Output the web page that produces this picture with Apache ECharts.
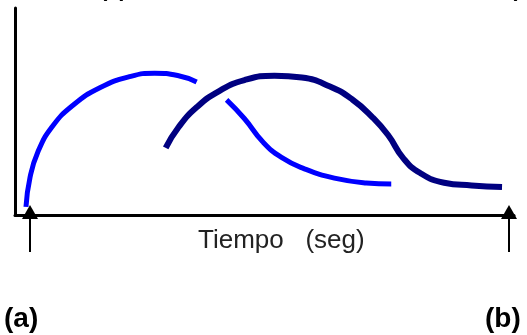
<!DOCTYPE html>
<html>
<head>
<meta charset="utf-8">
<script src="https://cdn.jsdelivr.net/npm/echarts@6/dist/echarts.min.js"></script>
<style>
  html, body { margin: 0; padding: 0; background: #fff; }
  #chart { width: 527px; height: 335px; }
</style>
</head>
<body>
<div id="chart"></div>
<script>
// curva (a): tramo de subida y tramo de bajada (con corte donde cruza la curva b)
const curvaASubida = [
    [2.2, 3.9], [3.0, 18.0], [4.6, 30.5], [7.4, 42.5], [11.6, 53.0],
    [17.0, 61.5], [23.2, 67.0], [28.0, 68.5], [32.6, 67.4], [36.4, 64.3]
];
const curvaABajada = [
    [42.4, 55.6], [46.0, 46.5], [49.6, 35.5], [53.4, 27.8],
    [58.0, 22.3], [64.0, 17.8], [70.4, 15.5], [75.4, 15.0]
];
// curva (b)
const curvaB = [
    [30.2, 32.4], [32.8, 42.5], [36.4, 52.0], [41.0, 60.0], [46.0, 65.2],
    [52.0, 67.3], [57.5, 66.4], [63.0, 62.2], [67.6, 55.8], [71.6, 47.3],
    [74.8, 38.5], [77.8, 27.5], [81.2, 20.3], [86.0, 15.6], [91.5, 14.3], [97.6, 13.5]
];
// instantes marcados con flechas: (a) y (b)
const flechas = [3.0, 99.0];
const etiquetaEje = 'Tiempo   (seg)';

const chart = echarts.init(document.getElementById('chart'));

const lineaAzul = { color: '#0000ff', width: 5 };

const option = {
    backgroundColor: '#fff',
    animation: false,
    grid: { left: 15, right: 13, top: 8, bottom: 120 },
    xAxis: {
        type: 'value',
        min: 0,
        max: 100,
        axisLine: { show: true, lineStyle: { color: '#000', width: 3 } },
        axisTick: { show: false },
        axisLabel: { show: false },
        splitLine: { show: false }
    },
    yAxis: {
        type: 'value',
        min: 0,
        max: 100,
        axisLine: { show: true, lineStyle: { color: '#000', width: 3 } },
        axisTick: { show: false },
        axisLabel: { show: false },
        splitLine: { show: false }
    },
    series: [
        {
            type: 'line', data: curvaASubida, smooth: 0.5, symbol: 'none',
            lineStyle: lineaAzul
        },
        {
            type: 'line', data: curvaABajada, smooth: 0.5, symbol: 'none',
            lineStyle: lineaAzul
        },
        {
            type: 'line', data: curvaB, smooth: 0.5, symbol: 'none',
            lineStyle: { color: '#000080', width: 6 }
        }
    ]
};

chart.setOption(option);

// flechas y textos
const graficos = [];
flechas.forEach(function (t) {
    const p = chart.convertToPixel({ gridIndex: 0 }, [t, 0]);
    const x = Math.round(p[0]);
    graficos.push({
        type: 'line',
        shape: { x1: x, y1: 252, x2: x, y2: 214 },
        style: { stroke: '#000', lineWidth: 2 },
        z: 10
    });
    graficos.push({
        type: 'polygon',
        shape: { points: [[x, 205], [x - 8, 219], [x + 8, 219]] },
        style: { fill: '#000' },
        z: 10
    });
});
graficos.push({
    type: 'text', left: 198, top: 228,
    style: { text: etiquetaEje, font: '26px "Liberation Sans", Arial, sans-serif', fill: '#222' }
});
graficos.push({
    type: 'text', left: 4, top: 305,
    style: { text: '(a)', font: 'bold 28px "Liberation Sans", Arial, sans-serif', fill: '#000' }
});
graficos.push({
    type: 'text', left: 485, top: 305,
    style: { text: '(b)', font: 'bold 28px "Liberation Sans", Arial, sans-serif', fill: '#000' }
});
// restos de texto cortados en el borde superior
graficos.push({
    type: 'text', left: 100, top: -21,
    style: { text: '(a)', font: 'bold 22px "Liberation Sans", Arial, sans-serif', fill: '#000' }
});
graficos.push({
    type: 'text', left: 510, top: -21,
    style: { text: '(b)', font: 'bold 22px "Liberation Sans", Arial, sans-serif', fill: '#000' }
});
chart.setOption({ graphic: graficos });

window.addEventListener('resize', function () {
    chart.resize();
});
</script>
</body>
</html>
